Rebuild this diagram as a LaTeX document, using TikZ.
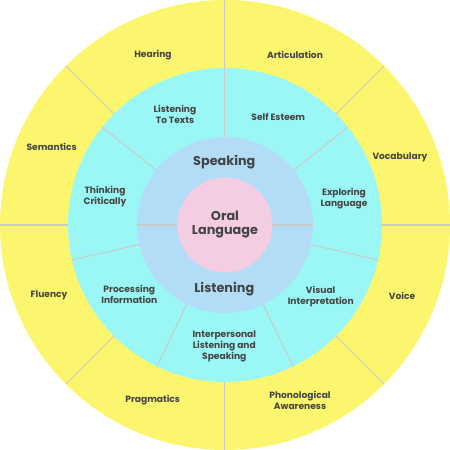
\documentclass[tikz,border=0pt]{standalone}
\usepackage{fontspec}
\setmainfont{Poppins}
\begin{document}
\begin{tikzpicture}[x=1pt,y=1pt,
  sep/.style={draw=sepgray,line width=1pt},
  lab/.style={text=txtgray,font=\bfseries\fontsize{9.1}{11}\selectfont,align=center,inner sep=0pt},
  biglab/.style={text=txtgray,font=\bfseries\fontsize{12.8}{14}\selectfont,align=center,inner sep=0pt}]
\definecolor{yel}{HTML}{FBF66D}
\definecolor{cya}{HTML}{9BF7F5}
\definecolor{blu}{HTML}{B3DDF7}
\definecolor{pnk}{HTML}{F5CDE3}
\definecolor{sepgray}{HTML}{CACACA}
\definecolor{txtgray}{HTML}{444444}
\useasboundingbox (-225,-225) rectangle (225,225);
\fill[yel] (0,0) circle (225);
\fill[cya] (0,0) circle (157);
\fill[blu] (0,0) circle (88);
\fill[pnk] (0,0) circle (47.5);
% yellow dividers
\foreach \a in {0,45,...,315} \draw[sep] (\a:157) -- (\a:225);
% cyan dividers
\foreach \k in {0,...,6} \draw[sep] ({90+\k*360/7}:88) -- ({90+\k*360/7}:157);
% blue dividers
\foreach \a in {0,180} \draw[sep] (\a:47.5) -- (\a:88);
% outer labels
\node[lab] (hear) at (-72,170) {Hearing};
\node[lab] (artic) at (70,170) {Articulation};
\node[lab] (vocab) at (175,68) {Vocabulary};
\node[lab] (voice) at (177,-70.7) {Voice};
\node[lab] (phon) at (75,-175.7) {Phonological\\Awareness};
\node[lab] (prag) at (-72.3,-175) {Pragmatics};
\node[lab] (flu) at (-176,-70.7) {Fluency};
\node[lab] (sem) at (-173.3,78) {Semantics};
% cyan labels
\node[lab] (ltt) at (-50,111) {Listening\\To Texts};
\node[lab] (self) at (53.3,107.7) {Self Esteem};
\node[lab] (expl) at (119,26.7) {Exploring\\Language};
\node[lab] (vis) at (95.7,-71.7) {Visual\\Interpretation};
\node[lab] (inter) at (-0.7,-121) {Interpersonal\\Listening and\\Speaking};
\node[lab] (proc) at (-95.7,-69) {Processing\\Information};
\node[lab] (think) at (-120,28.3) {Thinking\\Critically};
% blue labels
\node[biglab] (speak) at (-0.7,63) {Speaking};
\node[biglab] (listen) at (-0.7,-64.3) {Listening};
% center
\node[biglab] (oral) at (0,0) {Oral\\Language};
\end{tikzpicture}
\end{document}
